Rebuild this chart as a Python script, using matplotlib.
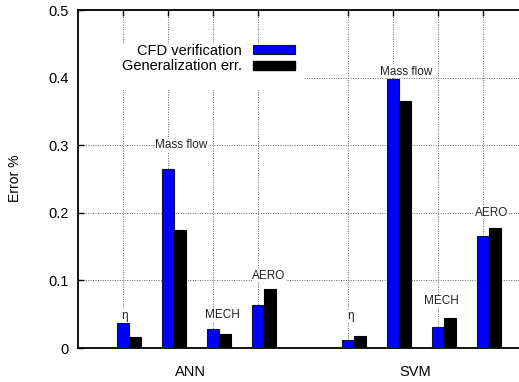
import numpy as np
import matplotlib.pyplot as plt
from matplotlib.patches import Patch, Rectangle
from matplotlib.ticker import FormatStrFormatter

plt.rcParams['font.family'] = ['Liberation Sans', 'DejaVu Sans']

# --- Data (error %) ---
groups = ["ANN", "SVM"]
outputs = ["η", "Mass flow", "MECH", "AERO"]
ann_cfd = [0.037, 0.265, 0.028, 0.064]
ann_gen = [0.016, 0.174, 0.020, 0.087]
svm_cfd = [0.012, 0.398, 0.031, 0.165]
svm_gen = [0.018, 0.366, 0.045, 0.178]

# where the output names sit above each bar pair
ann_label_dx = [0.03, 0.30, 0.20, 0.24]
ann_label_y = [0.048, 0.300, 0.0485, 0.107]
svm_label_dx = [0.06, 0.30, 0.08, 0.18]
svm_label_y = [0.047, 0.409, 0.0695, 0.200]

ann_x = np.arange(1, 5)
svm_x = np.arange(6, 10)
bw = 0.26
blue = '#0000ff'

fig = plt.figure(figsize=(5.19, 3.82), dpi=100)
ax = fig.add_axes([78 / 519, 34 / 382, 441 / 519, 338 / 382])

for xs, cfd, gen in [(ann_x, ann_cfd, ann_gen), (svm_x, svm_cfd, svm_gen)]:
    ax.bar(xs, cfd, width=bw, color=blue, edgecolor='#101040', linewidth=0.8, zorder=3)
    ax.bar(xs + bw, gen, width=bw, color='black', edgecolor='black', linewidth=0.8, zorder=3)

for xs, dx, ys in [(ann_x, ann_label_dx, ann_label_y), (svm_x, svm_label_dx, svm_label_y)]:
    for xi, d, yi, name in zip(xs, dx, ys, outputs):
        ax.text(xi + d, yi, name, ha='center', va='center', fontsize=8.5, color='#222222',
                zorder=4, bbox=dict(facecolor='white', edgecolor='none', pad=0.3))

ax.set_xlim(0, 9.8)
ax.set_ylim(0, 0.5)
ax.set_xticks(list(ann_x) + list(svm_x))
ax.set_xticklabels([])
ax.set_yticks([0, 0.1, 0.2, 0.3, 0.4, 0.5])
ax.yaxis.set_major_formatter(FormatStrFormatter('%g'))
ax.tick_params(direction='in', length=4, width=1, top=True, bottom=True, right=False,
               labelsize=10.5, pad=7, colors='black')
ax.set_axisbelow(True)
ax.grid(True, color='#666666', linestyle=(0, (1, 1.5)), linewidth=0.7)
ax.spines['right'].set_visible(False)
for s in ['top', 'left', 'bottom']:
    ax.spines[s].set_linewidth(1.3)

# group names under the axis
for gx, g in zip([2.5, 7.5], groups):
    ax.text(gx, -0.071, g, transform=ax.get_xaxis_transform(), ha='center', va='center',
            fontsize=10.5)

# white area behind the key
ax.add_patch(Rectangle((0, 0.381), 5.0, 0.068, facecolor='white', edgecolor='none', zorder=1))
handles = [Patch(facecolor=blue, edgecolor='#101040', linewidth=0.8, label='CFD verification'),
           Patch(facecolor='black', edgecolor='black', label='Generalization err.')]
ax.legend(handles=handles, markerfirst=False, frameon=False, loc='upper right',
          bbox_to_anchor=(295 / 519, (382 - 44) / 382), bbox_transform=fig.transFigure,
          borderpad=0, borderaxespad=0, handlelength=2.9, handleheight=0.55,
          handletextpad=0.75, labelspacing=0.1, fontsize=10.5)

fig.text(15 / 519, 0.534, 'Error %', rotation=90, ha='center', va='center', fontsize=10)

fig.savefig('out.png', dpi=100)
